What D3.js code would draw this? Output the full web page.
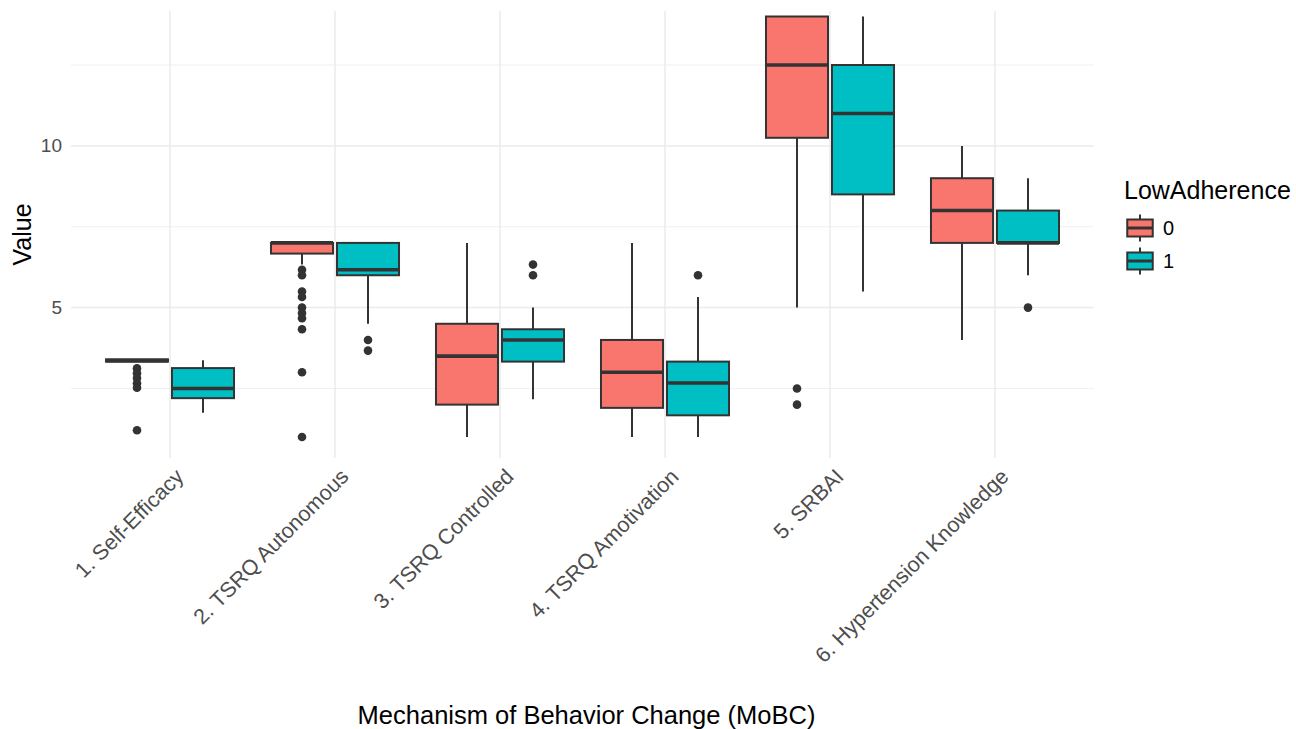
<!DOCTYPE html>
<html>
<head>
<meta charset="utf-8">
<script src="https://cdn.jsdelivr.net/npm/d3@7"></script>
<style>
  body { margin: 0; background: #fff; }
  text { font-family: "Liberation Sans", Arial, Helvetica, sans-serif; }
</style>
</head>
<body>
<script>
const categories = ['1. Self-Efficacy', '2. TSRQ Autonomous', '3. TSRQ Controlled',
  '4. TSRQ Amotivation', '5. SRBAI', '6. Hypertension Knowledge']
const groups = ['0', '1']
const colors = ['#F8766D', '#00BFC4']

// LowAdherence = 0
const lo0  = [3.33, 6.33, 1,   1,    5,     4]
const q1_0 = [3.33, 6.67, 2,   1.9,  10.25, 7]
const med0 = [3.36, 7,    3.5, 3,    12.5,  8]
const q3_0 = [3.4,  7,    4.5, 4,    14,    9]
const hi0  = [3.4,  7,    7,   7,    14,    10]
const out0 = [
  [3.12, 2.97, 2.82, 2.66, 2.52, 1.21],
  [6.17, 6.0, 5.5, 5.33, 5.0, 4.83, 4.67, 4.33, 3.0, 1.0],
  [],
  [],
  [2.5, 2],
  []
]

// LowAdherence = 1
const lo1  = [1.75,  4.5,  2.17, 1,    5.5,  6]
const q1_1 = [2.2,   6,    3.33, 1.67, 8.5,  7]
const med1 = [2.5,   6.17, 4,    2.67, 11,   7]
const q3_1 = [3.13,  7,    4.33, 3.33, 12.5, 8]
const hi1  = [3.375, 7,    5,    5.33, 14,   9]
const out1 = [
  [],
  [4.0, 3.67],
  [6.33, 6],
  [6],
  [],
  [5]
]

const yTicks = [5, 10]
const yMinor = [2.5, 7.5, 12.5]

const WIDTH = 1296
const HEIGHT = 729

const panel = { left: 71, right: 1094, top: 11, bottom: 458 }

const stats = [
  { lo: lo0, q1: q1_0, med: med0, q3: q3_0, hi: hi0, out: out0 },
  { lo: lo1, q1: q1_1, med: med1, q3: q3_1, hi: hi1, out: out1 }
]

const boxes = []
groups.forEach((g, gi) => {
  categories.forEach((c, ci) => {
    const s = stats[gi]
    boxes.push({
      cat: c, group: g, color: colors[gi],
      lo: s.lo[ci], q1: s.q1[ci], med: s.med[ci], q3: s.q3[ci], hi: s.hi[ci],
      out: s.out[ci]
    })
  })
})

const svg = d3.select('body')
  .append('svg')
  .attr('width', WIDTH)
  .attr('height', HEIGHT)

const x = d3.scaleBand()
  .domain(categories)
  .range([panel.left, panel.right])
  .paddingInner(0)
  .paddingOuter(0.1)

const step = x.step()

const xg = d3.scaleBand()
  .domain(groups)
  .range([-0.4 * step, 0.4 * step])

const boxW = xg.bandwidth() * 0.94

const y = d3.scaleLinear()
  .domain([0.35, 14.17])
  .range([panel.bottom, panel.top])

const cx = d => x(d.cat) + x.bandwidth() / 2 + xg(d.group) + xg.bandwidth() / 2

// grid
const grid = svg.append('g').attr('id', 'grid')

grid.selectAll('.minor')
  .data(yMinor)
  .enter()
  .append('line')
  .attr('x1', panel.left)
  .attr('x2', panel.right)
  .attr('y1', d => y(d))
  .attr('y2', d => y(d))
  .attr('stroke', '#f0f0f0')
  .attr('stroke-width', 1)

grid.selectAll('.major')
  .data(yTicks)
  .enter()
  .append('line')
  .attr('x1', panel.left)
  .attr('x2', panel.right)
  .attr('y1', d => y(d))
  .attr('y2', d => y(d))
  .attr('stroke', '#ebebeb')
  .attr('stroke-width', 1.5)

grid.selectAll('.vert')
  .data(categories)
  .enter()
  .append('line')
  .attr('x1', d => x(d) + x.bandwidth() / 2)
  .attr('x2', d => x(d) + x.bandwidth() / 2)
  .attr('y1', panel.top)
  .attr('y2', panel.bottom)
  .attr('stroke', '#ebebeb')
  .attr('stroke-width', 1.5)

// boxplots
const bp = svg.append('g').attr('id', 'boxes')

const b = bp.selectAll('g')
  .data(boxes)
  .enter()
  .append('g')

b.append('line')
  .attr('x1', cx).attr('x2', cx)
  .attr('y1', d => y(d.q3)).attr('y2', d => y(d.hi))
  .attr('stroke', '#333333').attr('stroke-width', 2)

b.append('line')
  .attr('x1', cx).attr('x2', cx)
  .attr('y1', d => y(d.q1)).attr('y2', d => y(d.lo))
  .attr('stroke', '#333333').attr('stroke-width', 2)

b.append('rect')
  .attr('x', d => cx(d) - boxW / 2)
  .attr('width', boxW)
  .attr('y', d => y(d.q3))
  .attr('height', d => y(d.q1) - y(d.q3))
  .attr('fill', d => d.color)
  .attr('stroke', '#333333')
  .attr('stroke-width', 2)

b.append('line')
  .attr('x1', d => cx(d) - boxW / 2)
  .attr('x2', d => cx(d) + boxW / 2)
  .attr('y1', d => y(d.med)).attr('y2', d => y(d.med))
  .attr('stroke', '#333333').attr('stroke-width', 3.6)

b.selectAll('circle')
  .data(d => d.out.map(v => ({ v: v, x: cx(d) })))
  .enter()
  .append('circle')
  .attr('cx', d => d.x)
  .attr('cy', d => y(d.v))
  .attr('r', 4.3)
  .attr('fill', '#333333')

// axes
const yAxis = d3.axisLeft(y)
  .tickValues(yTicks)
  .tickSize(0)
  .tickPadding(9)

svg.append('g')
  .attr('id', 'y-axis')
  .attr('transform', 'translate(' + panel.left + ',0)')
  .call(yAxis)
  .call(g => g.select('.domain').remove())
  .selectAll('text')
  .attr('fill', '#4d4d4d')
  .style('font-size', '19px')

const xAxis = d3.axisBottom(x).tickSize(0)

svg.append('g')
  .attr('id', 'x-axis')
  .attr('transform', 'translate(0,' + panel.bottom + ')')
  .call(xAxis)
  .call(g => g.select('.domain').remove())
  .selectAll('text')
  .attr('fill', '#4d4d4d')
  .style('font-size', '21.5px')
  .attr('text-anchor', 'end')
  .attr('dy', '0.72em')
  .attr('y', 0)
  .attr('transform', 'translate(4,9) rotate(-45)')

svg.append('text')
  .attr('x', (panel.left + panel.right) / 2 + 4)
  .attr('y', 724)
  .attr('text-anchor', 'middle')
  .style('font-size', '25.5px')
  .attr('fill', '#000')
  .text('Mechanism of Behavior Change (MoBC)')

svg.append('text')
  .attr('transform', 'translate(31,' + (panel.top + panel.bottom) / 2 + ') rotate(-90)')
  .attr('text-anchor', 'middle')
  .style('font-size', '25px')
  .attr('fill', '#000')
  .text('Value')

// legend
const legend = svg.append('g').attr('id', 'legend')

legend.append('text')
  .attr('x', 1124)
  .attr('y', 199)
  .style('font-size', '25px')
  .text('LowAdherence')

const key = legend.selectAll('.key')
  .data(groups)
  .enter()
  .append('g')
  .attr('transform', (d, i) => 'translate(1123,' + (211 + i * 33) + ')')

key.append('line')
  .attr('x1', 17).attr('x2', 17)
  .attr('y1', 3.4).attr('y2', 30.6)
  .attr('stroke', '#333333').attr('stroke-width', 2)

key.append('rect')
  .attr('x', 4.25).attr('width', 25.5)
  .attr('y', 8.5).attr('height', 17)
  .attr('fill', (d, i) => colors[i])
  .attr('stroke', '#333333').attr('stroke-width', 2)

key.append('line')
  .attr('x1', 4.25).attr('x2', 29.75)
  .attr('y1', 17).attr('y2', 17)
  .attr('stroke', '#333333').attr('stroke-width', 3)

key.append('text')
  .attr('x', 40)
  .attr('y', 17)
  .attr('dy', '0.36em')
  .style('font-size', '20px')
  .text(d => d)
</script>
</body>
</html>
